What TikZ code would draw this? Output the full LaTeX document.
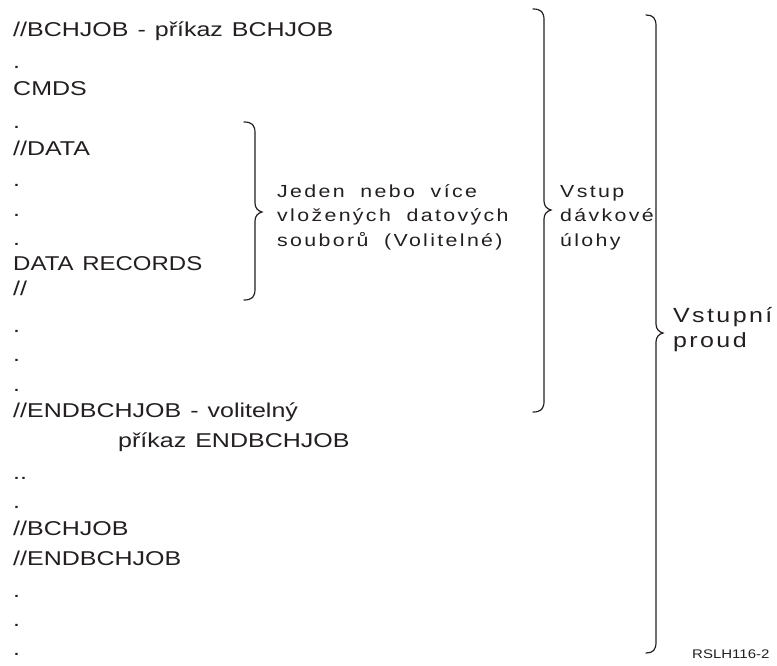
\documentclass[tikz,border=0pt]{standalone}
\usepackage{fontspec}
\setmainfont[WordSpace=1.3]{Liberation Sans}
\newfontfamily\lblfam[LetterSpace=11,WordSpace=1.9]{Liberation Sans}
\newfontfamily\bigfam[LetterSpace=9.5,WordSpace=1.5]{Liberation Sans}
\definecolor{ink}{HTML}{231F20}

% horizontally widened text
\newcommand\wide[1]{\scalebox{1.25}[1]{#1}}
\newcommand\lwide[1]{\scalebox{1.22}[1]{#1}}

% right-pointing curly brace: end x, stem x, tip x, top y, tip y, bottom y
\newcommand\curlybr[6]{%
  \draw[bracestyle] (#1,#4) .. controls ({#2-3},#4) and (#2,{#4+3}) .. (#2,{#4+11})
    -- (#2,{#5-9}) .. controls (#2,{#5-4}) and ({#3-4},{#5-1}) .. (#3,#5)
    .. controls ({#3-4},{#5+1}) and (#2,{#5+4}) .. (#2,{#5+9})
    -- (#2,{#6-11}) .. controls (#2,{#6-3}) and ({#2-3},#6) .. (#1,#6);}

\begin{document}
\begin{tikzpicture}[x=1pt,y=-1pt,
  code/.style={anchor=base west, inner sep=0pt, text=ink,
    font=\fontsize{20}{24}\selectfont},
  lbl/.style={anchor=base west, inner sep=0pt, text=ink,
    font=\lblfam\fontsize{17.5}{20}\selectfont},
  biglbl/.style={anchor=base west, inner sep=0pt, text=ink,
    font=\bigfam\fontsize{20.5}{24}\selectfont},
  tag/.style={anchor=base west, inner sep=0pt, text=ink,
    font=\fontsize{12.5}{15}\selectfont},
  bracestyle/.style={draw=ink, line width=1.2pt, line cap=round}]
\useasboundingbox (0,0) rectangle (777,666);

% job stream listing
\node[code] (c1)  at (13,37)  {\wide{//BCHJOB - příkaz BCHJOB}};
\node[code] (d1)  at (13,69)  {\wide{.}};
\node[code] (c2)  at (13,96)  {\wide{CMDS}};
\node[code] (d2)  at (13,129) {\wide{.}};
\node[code] (c3)  at (13,156) {\wide{//DATA}};
\node[code] (d3)  at (13,187) {\wide{.}};
\node[code] (d4)  at (13,216) {\wide{.}};
\node[code] (d5)  at (13,245) {\wide{.}};
\node[code] (c4)  at (13,270) {\scalebox{1.2}[1]{DATA RECORDS}};
\node[code] (c5)  at (13,295) {\wide{//}};
\node[code] (d6)  at (13,332) {\wide{.}};
\node[code] (d7)  at (13,361) {\wide{.}};
\node[code] (d8)  at (13,391) {\wide{.}};
\node[code] (c6)  at (13,417) {\wide{//ENDBCHJOB - volitelný}};
\node[code] (c6b) at (118,447) {\wide{příkaz ENDBCHJOB}};
\node[code] (d9)  at (13,479) {\wide{..}};
\node[code] (d10) at (13,508) {\wide{.}};
\node[code] (c7)  at (13,535) {\wide{//BCHJOB}};
\node[code] (c8)  at (13,565) {\wide{//ENDBCHJOB}};
\node[code] (d11) at (13,597) {\wide{.}};
\node[code] (d12) at (13,626) {\wide{.}};
\node[code] (d13) at (13,655) {\wide{.}};

% braces
\curlybr{244}{255}{262}{122}{212}{300}
\curlybr{533}{544}{551}{9}{210}{412}
\curlybr{646}{656}{663}{15}{333}{653}

% brace labels
\node[lbl] (j1) at (277,197) {\lwide{Jeden nebo více}};
\node[lbl] (j2) at (277,222) {\lwide{vložených datových}};
\node[lbl] (j3) at (277,247) {\lwide{souborů (Volitelné)}};

\node[lbl] (v1) at (560,197) {\lwide{Vstup}};
\node[lbl] (v2) at (560,222) {\lwide{dávkové}};
\node[lbl] (v3) at (560,247) {\lwide{úlohy}};

\node[biglbl] (p1) at (673,322) {\lwide{Vstupní}};
\node[biglbl] (p2) at (673,347) {\lwide{proud}};

\node[tag] (id) at (692,658) {\scalebox{1.2}[1]{RSLH116-2}};
\end{tikzpicture}
\end{document}
